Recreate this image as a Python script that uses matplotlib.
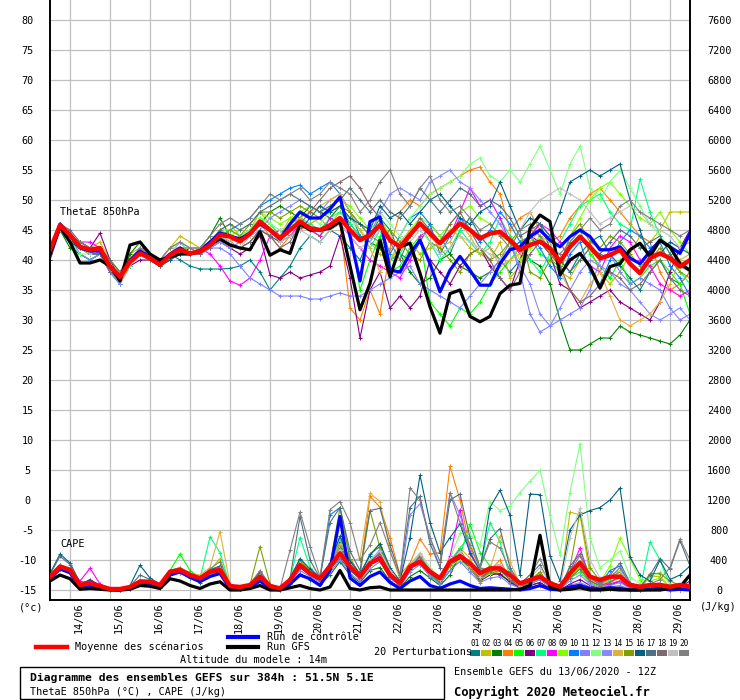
import numpy as np
import matplotlib
matplotlib.use('Agg')
import matplotlib.pyplot as plt
from matplotlib.transforms import ScaledTranslation
from matplotlib.patches import Rectangle

plt.rcParams['font.family'] = ['DejaVu Sans Mono', 'DejaVu Sans']

# forecast hours, every 6h from 13/06 12Z up to 384h
hours = np.arange(0, 385, 6)
day_hours = np.arange(12, 384, 24)
day_labels = ['14/06', '15/06', '16/06', '17/06', '18/06', '19/06', '20/06', '21/06',
              '22/06', '23/06', '24/06', '25/06', '26/06', '27/06', '28/06', '29/06']
theta_ticks = list(range(-15, 81, 5))
cape_ticks = list(range(0, 7601, 400))

pert_colors = ['#008080', '#c0c000', '#008000', '#ff8000', '#00ff00', '#800080', '#00ff80',
               '#ff00ff', '#80ff00', '#0080ff', '#8080ff', '#80ff80', '#8888ff', '#e0b040',
               '#80a000', '#006080', '#507080', '#806870', '#c0c0c0', '#808080']

# ---- ThetaE 850hPa (degC)
theta_mean = [41.7, 45.8, 44.2, 42.2, 41.7, 42.0, 38.9, 37.2, 39.7, 41.1, 40.3, 39.2, 40.8, 41.7, 41.1, 41.4,
              42.5, 44.2, 43.9, 43.1, 44.4, 46.4, 45.0, 43.6, 45.0, 46.4, 45.3, 45.0, 45.8, 47.0, 45.0, 43.3,
              44.2, 45.8, 43.3, 42.2, 44.2, 46.1, 44.4, 42.8, 44.4, 46.1, 45.0, 43.6, 44.4, 44.7, 43.3, 41.7,
              42.5, 43.1, 41.9, 39.7, 42.2, 43.9, 42.2, 40.3, 40.8, 41.7, 39.4, 37.8, 40.3, 41.1, 40.3, 38.9, 40.0]
theta_ctrl = [41, 46, 44, 42, 41.5, 41.5, 39, 37, 40, 41.5, 40.5, 39.5, 41, 42, 41, 41.5,
              43, 44.5, 44, 43.5, 44.5, 46, 45, 43.5, 46, 48, 47, 47, 48.5, 50.5, 44, 36.5,
              46.4, 47.2, 38.3, 38, 41.1, 43.3, 39.4, 34.7, 38.3, 40.6, 38.3, 35.8, 35.8, 39.4, 41.7, 42.2,
              43.9, 45, 43.3, 42.2, 43.9, 45, 43.9, 41.7, 41.7, 42.2, 40.3, 39.4, 41.4, 43.3, 42.2, 41.1, 44.4]
theta_gfs = [41, 45.5, 43, 39.5, 39.5, 40, 39, 36.5, 42.5, 43, 41, 40, 40.5, 41, 41, 41.5,
             42.5, 43.5, 42.5, 42, 41.7, 44.7, 40.8, 41.7, 41.1, 46, 45, 45, 45.3, 46.4, 39, 31.7,
             36.1, 43.3, 37.2, 42.2, 42.8, 37.8, 32.2, 27.8, 34.4, 35, 30.6, 29.7, 30.6, 34.4, 35.8, 36.1,
             45.3, 47.5, 46.4, 37.5, 40, 41.1, 38.9, 35.3, 38.9, 39.4, 41.7, 42.8, 40.6, 43.3, 42.2, 39.4, 38.3]

theta_01 = [42, 45, 43, 41, 40, 41, 38, 37, 40, 41.5, 40, 39, 41, 40, 39, 38.5, 38.5, 38.5, 38.6, 39, 40, 38, 35, 37, 39, 42, 44, 43, 45, 44, 42, 40, 44, 47, 45, 41, 40, 43, 46, 44, 41, 45, 47, 44, 42, 40, 38, 40, 44, 46, 42, 40, 38, 41, 43, 44, 41, 39, 37, 35, 38, 40, 37, 36, 38]
theta_02 = [42, 46, 44, 43, 42, 43, 40, 38, 41, 42, 41, 40, 42, 44, 43, 42, 43, 45, 46, 44, 45, 48, 46, 44, 47, 46, 45, 44, 46, 48, 47, 45, 43, 41, 40, 42, 43, 41, 42, 43, 45, 44, 42, 41, 40, 43, 37, 39, 45, 44, 43, 38, 37, 40, 42, 38, 36, 38, 41, 44, 43, 45, 48, 48, 48]
theta_03 = [41, 45, 42, 41, 40, 41, 38, 36, 41, 43, 40, 39, 40, 42, 41, 42, 44, 47, 44, 43, 44, 46, 48, 49, 48, 47, 49, 48, 47, 49, 46, 44, 43, 42, 40, 41, 38, 36, 37, 40, 41, 39, 38, 37, 38, 40, 42, 43, 40, 39, 36, 30, 25, 25, 26, 27, 27, 29, 28, 27.5, 27, 26.5, 26, 27.5, 30]
theta_04 = [42, 46, 44, 42, 41, 42, 38, 36, 39, 41, 40, 39, 41, 42, 41, 41, 42, 44, 43, 44, 45, 46, 44, 42, 44, 45, 46, 47, 45, 46, 32, 30, 35, 31, 42, 48, 50, 49, 51, 52, 53, 54, 55, 55.5, 53, 51, 45, 47, 48, 45, 43, 44, 47, 49, 51, 52, 50, 48, 46, 44, 43, 38, 35, 36, 38]
theta_05 = [41, 45, 44, 42, 41, 42, 39, 37, 40, 42, 41, 39, 41, 42, 41, 42, 43, 45, 44, 43, 44, 47, 45, 44, 46, 47, 45, 44, 46, 47, 45, 35, 40, 44, 38, 39, 42, 44, 33, 31, 29, 32, 31, 33, 36, 38, 40, 42, 44, 41, 40, 38, 43, 45, 41, 39, 37, 40, 36, 37, 39, 40, 38, 36, 31]
theta_06 = [40, 45, 43, 43, 42, 44.5, 40, 37, 39, 40, 40, 39, 41, 41, 42, 41, 42, 43, 42, 41, 42, 44, 37.5, 37, 38, 37, 37.5, 38, 39, 44, 37, 27, 35, 38, 32, 34, 32, 34, 40, 38, 36, 39, 41, 42, 39, 37, 35, 40, 44, 43, 41, 36, 35, 32, 33, 34, 35, 33, 32, 31, 30, 33, 38, 42, 45]
theta_07 = [42, 45, 43, 41, 40, 41, 38, 36, 40, 42, 41, 40, 42, 43, 41, 41, 43, 45, 45, 44, 45, 47, 46, 44, 45, 47, 46, 45, 47, 48, 46, 44, 42, 45, 40, 41, 44, 46, 43, 40, 42, 45, 43, 41, 43, 47, 44, 42, 40, 38, 41, 43, 46, 49, 50, 51, 48, 46, 45, 53.5, 48, 44, 41, 38, 36]
theta_08 = [42, 46, 44, 43, 43, 42, 39, 37, 40, 42, 41, 40, 41, 42, 41, 42, 41, 39, 36.5, 35.8, 37, 40, 44, 45, 44, 46, 45, 44, 47, 46, 44, 42, 40, 39, 38, 37, 40, 44, 45, 43, 44, 48, 52, 49, 50, 47, 43, 41, 44, 46, 45, 43, 40, 41, 39, 38, 42, 44, 43, 40, 39, 36, 35, 34, 35]
theta_09 = [41, 45, 44, 42, 41, 42, 40, 38, 40, 41, 40, 39, 41, 42, 42, 42, 43, 44, 44, 45, 46, 48, 47, 46, 47, 48, 49, 48, 49, 50, 49, 47, 45, 47, 44, 42, 45, 47, 46, 44, 46, 48, 49, 47, 46, 44, 43, 40, 42, 44, 41, 39, 44, 47, 50, 52, 53, 51, 49, 47, 46, 48, 45, 43, 41]
theta_10 = [41, 46, 44, 42, 41, 41, 38, 37, 39, 41, 40, 39, 41, 42, 41, 41, 42, 44, 45, 46, 47, 49, 50, 51, 52, 52.5, 51, 52, 53, 51, 48, 44, 43, 46, 41, 44, 47, 48, 46, 41, 44, 47, 45, 43, 45, 48, 46, 43, 44, 42, 39, 37, 41, 43, 38, 36, 40, 43, 45, 44, 42, 43, 39, 37, 34]
theta_11 = [42, 45, 44, 41, 40, 41, 38, 36, 40, 41, 40, 39, 40, 41, 41, 41, 42, 42, 41, 39, 37, 36, 35, 34, 34, 34, 33.5, 33.5, 34, 34.5, 34, 34, 35, 36, 37, 38, 39, 36, 35, 34, 33, 32, 34, 36, 38, 40, 43, 38, 31, 28, 29, 30, 31, 32, 35, 40, 41, 38, 36, 37, 36, 35, 32, 30, 31]
theta_12 = [42, 45, 43, 41, 41, 42, 39, 37, 39, 41, 40, 39, 41, 42, 42, 42, 43, 45, 45, 44, 45, 47, 46, 45, 46, 48, 47, 46, 48, 49, 47, 45, 46, 48, 46, 44, 47, 49, 51, 52, 53, 54, 56, 57, 54, 53, 55, 53, 56, 59, 55, 51, 56, 59, 52, 50, 53, 55, 52, 49, 46, 44, 42, 40, 38]
theta_13 = [41, 45, 44, 42, 42, 41, 38, 36, 40, 41, 41, 40, 41, 43, 42, 41, 42, 43, 42, 43, 44, 45, 47, 48, 49, 50, 49, 48, 50, 51, 48, 46, 44, 48, 51, 52, 51, 50, 53, 54, 55, 53, 52, 50, 48, 46, 43, 39, 36, 31, 29, 32, 35, 38, 40, 39, 38, 36, 35, 33, 31, 30, 31, 32, 30]
theta_14 = [41, 46, 44, 42, 41, 42, 39, 37, 40, 42, 41, 40, 42, 42, 41, 42, 43, 45, 44, 43, 44, 46, 45, 44, 46, 47, 48, 49, 50, 51, 48, 45, 42, 38, 40, 43, 45, 46, 44, 42, 43, 46, 44, 41, 42, 39, 40, 41, 43, 45, 43, 38, 35, 33, 36, 38, 34, 30, 29, 30, 31, 33, 36, 40, 41]
theta_15 = [41, 45, 43, 42, 41, 42, 39, 37, 40, 42, 40, 39, 41, 42, 42, 42, 43, 44, 45, 44, 46, 48, 48, 47, 48, 49, 48, 47, 48, 49, 48, 46, 44, 43, 45, 43, 41, 40, 43, 42, 40, 38, 41, 42, 40, 41, 43, 45, 38, 37, 40, 39, 44, 46, 43, 42, 44, 43, 41, 39, 40, 42, 40, 38, 37]
theta_16 = [42, 45, 43, 42, 41, 41, 39, 37, 40, 41, 40, 39, 40, 41, 41, 42, 43, 44, 43, 42, 43, 45, 44, 43, 44, 45, 47, 49, 48, 49, 47, 46, 45, 49, 47, 48, 46, 48, 50, 51, 49, 47, 46, 48, 49, 53, 49, 45, 47, 46, 44, 48, 53, 54, 55, 54, 55, 56, 50, 45, 40, 41, 43, 42, 41]
theta_17 = [42, 46, 45, 43, 42, 42, 40, 38, 40, 41, 40, 39, 41, 42, 41, 42, 43, 45, 46, 45, 46, 48, 49, 50, 51, 50, 49, 48, 49, 50, 52, 50, 48, 50, 48, 47, 49, 52, 50, 48, 50, 52, 51, 49, 50, 49, 47, 44, 45, 46, 44, 40, 38, 40, 42, 41, 43, 45, 44, 42, 43, 44, 41, 39, 38]
theta_18 = [41, 45, 44, 42, 41, 41, 38, 37, 40, 41, 40, 39, 41, 42, 41, 41, 42, 44, 43, 42, 43, 45, 44, 42, 43, 46, 48, 50, 52, 53, 54, 52, 49, 47, 43, 40, 44, 47, 45, 43, 46, 48, 45, 42, 40, 37, 35, 38, 41, 43, 41, 39, 35, 33, 34, 36, 38, 37, 35, 36, 38, 40, 37, 35, 34]
theta_19 = [42, 45, 44, 42, 41, 42, 39, 37, 40, 42, 41, 40, 41, 43, 42, 42, 43, 44, 43, 42, 44, 46, 45, 43, 44, 45, 44, 43, 45, 46, 44, 42, 43, 45, 44, 42, 43, 45, 43, 41, 42, 44, 43, 42, 41, 40, 42, 45, 48, 50, 51, 52, 51, 50, 48, 46, 47, 48, 49, 48, 46, 45, 44, 42, 43]
theta_20 = [42, 46, 44, 43, 42, 42, 39, 38, 40, 42, 41, 40, 42, 43, 42, 42, 44, 46, 47, 46, 47, 49, 51, 50, 51, 52, 50, 51, 53, 52, 51, 48, 50, 53, 55, 51, 49, 52, 54, 50, 48, 49, 47, 45, 46, 44, 42, 45, 46, 44, 42, 41, 43, 45, 47, 45, 46, 49, 50, 48, 47, 46, 45, 44, 45]

# ---- CAPE (J/kg)
cape_mean = [178, 311, 267, 67, 89, 53, 13, 13, 40, 111, 111, 67, 244, 267, 200, 156, 244, 267, 53, 40, 67, 178,
             53, 22, 133, 333, 222, 156, 311, 489, 311, 178, 356, 422, 200, 89, 311, 378, 244, 156, 378, 453,
             356, 222, 289, 289, 200, 89, 133, 178, 89, 44, 222, 364, 178, 133, 178, 178, 67, 44, 67, 67, 44, 67, 44]
cape_ctrl = [150, 280, 230, 40, 60, 30, 5, 0, 20, 90, 80, 40, 200, 240, 170, 110, 180, 220, 20, 10, 30, 120,
             20, 0, 80, 200, 150, 60, 260, 980, 160, 60, 180, 240, 100, 20, 120, 180, 60, 20, 80, 120,
             60, 20, 30, 20, 10, 0, 20, 60, 10, 0, 40, 60, 20, 10, 30, 20, 0, 0, 10, 20, 0, 10, 0]
cape_gfs = [120, 200, 150, 10, 20, 10, 0, 0, 10, 60, 50, 20, 150, 120, 60, 20, 80, 110, 0, 0, 20, 60,
            0, 0, 30, 60, 20, 0, 40, 260, 20, 0, 30, 40, 0, 0, 0, 0, 0, 0, 0, 0,
            0, 0, 0, 0, 0, 10, 60, 730, 40, 0, 10, 30, 0, 0, 10, 0, 0, 0, 0, 0, 20, 40, 200]

cape_01 = [160, 300, 260, 60, 90, 40, 10, 0, 30, 100, 90, 60, 230, 250, 180, 140, 220, 300, 40, 20, 60, 180, 40, 10, 120, 300, 200, 120, 280, 420, 260, 150, 330, 460, 180, 60, 280, 380, 200, 90, 260, 420, 300, 140, 230, 260, 140, 40, 80, 140, 40, 10, 160, 300, 120, 60, 100, 180, 40, 10, 30, 40, 10, 20, 20]
cape_02 = [180, 330, 280, 70, 100, 50, 10, 0, 40, 120, 110, 60, 250, 300, 210, 150, 260, 420, 60, 30, 80, 250, 60, 20, 140, 380, 240, 150, 320, 560, 280, 180, 480, 620, 260, 80, 300, 420, 260, 120, 380, 560, 420, 180, 260, 220, 120, 40, 100, 180, 40, 20, 1040, 1000, 200, 100, 140, 200, 60, 20, 180, 180, 40, 60, 80]
cape_03 = [170, 280, 240, 40, 70, 30, 0, 0, 20, 80, 70, 30, 200, 230, 160, 100, 200, 250, 30, 10, 40, 150, 30, 0, 80, 220, 140, 80, 200, 380, 200, 100, 260, 300, 120, 30, 180, 260, 160, 60, 200, 480, 300, 160, 240, 200, 120, 30, 60, 100, 20, 0, 40, 80, 20, 0, 20, 40, 0, 0, 10, 10, 0, 0, 0]
cape_04 = [160, 280, 250, 60, 80, 50, 10, 0, 30, 100, 90, 50, 220, 240, 180, 130, 230, 260, 40, 20, 60, 200, 50, 10, 120, 320, 220, 140, 300, 700, 420, 200, 1250, 1100, 700, 200, 360, 680, 480, 500, 1650, 1200, 560, 300, 260, 400, 140, 60, 100, 180, 60, 20, 180, 280, 120, 60, 120, 160, 40, 10, 40, 40, 10, 20, 20]
cape_05 = [190, 320, 270, 60, 80, 40, 10, 0, 40, 110, 100, 60, 260, 480, 260, 160, 240, 320, 50, 20, 60, 220, 50, 10, 140, 400, 260, 140, 320, 600, 340, 180, 380, 480, 220, 80, 300, 340, 200, 90, 320, 460, 880, 500, 320, 280, 160, 40, 100, 160, 40, 10, 160, 240, 100, 40, 80, 120, 30, 0, 20, 30, 0, 10, 10]
cape_06 = [170, 290, 260, 70, 140, 60, 10, 0, 30, 100, 100, 60, 230, 250, 190, 140, 230, 260, 50, 20, 60, 180, 50, 10, 120, 300, 200, 120, 280, 640, 300, 160, 360, 420, 180, 60, 280, 380, 220, 100, 320, 420, 280, 120, 200, 220, 100, 30, 60, 100, 20, 0, 80, 140, 60, 20, 60, 120, 20, 0, 10, 40, 0, 40, 120]
cape_07 = [180, 300, 270, 60, 90, 50, 10, 0, 40, 110, 100, 60, 240, 260, 200, 150, 710, 500, 60, 30, 70, 200, 50, 10, 140, 700, 300, 160, 350, 680, 300, 180, 400, 520, 220, 80, 300, 420, 220, 100, 380, 560, 720, 300, 900, 640, 180, 60, 100, 200, 60, 20, 200, 340, 140, 80, 140, 260, 60, 20, 640, 400, 60, 40, 60]
cape_08 = [200, 330, 290, 120, 290, 80, 20, 0, 40, 110, 110, 70, 250, 270, 210, 160, 260, 300, 60, 30, 70, 200, 60, 20, 140, 360, 240, 150, 320, 520, 280, 160, 380, 480, 200, 70, 320, 440, 260, 120, 450, 1070, 480, 260, 300, 340, 160, 50, 100, 220, 60, 10, 240, 560, 160, 60, 80, 120, 40, 10, 30, 60, 10, 30, 60]
cape_09 = [160, 290, 250, 60, 80, 40, 10, 0, 30, 100, 100, 60, 240, 280, 200, 150, 250, 300, 60, 30, 60, 190, 50, 10, 140, 380, 240, 140, 300, 540, 300, 180, 400, 520, 240, 100, 320, 460, 260, 120, 320, 400, 280, 140, 220, 300, 160, 40, 120, 220, 60, 20, 180, 300, 140, 100, 320, 690, 420, 140, 120, 160, 40, 60, 80]
cape_10 = [170, 310, 260, 70, 90, 50, 10, 0, 30, 100, 100, 60, 230, 250, 190, 140, 230, 260, 50, 20, 60, 190, 50, 10, 130, 360, 260, 160, 1000, 1100, 420, 200, 480, 580, 260, 80, 300, 460, 240, 100, 340, 460, 300, 160, 260, 300, 140, 40, 120, 200, 60, 20, 200, 360, 140, 80, 260, 320, 60, 20, 40, 80, 20, 40, 40]
cape_11 = [150, 280, 240, 60, 80, 40, 10, 0, 30, 90, 80, 40, 210, 230, 170, 120, 200, 240, 40, 10, 50, 160, 40, 0, 100, 260, 180, 100, 240, 400, 220, 120, 280, 380, 160, 50, 240, 340, 180, 80, 260, 380, 240, 100, 160, 180, 80, 20, 40, 60, 10, 0, 60, 100, 40, 10, 40, 60, 10, 0, 10, 20, 0, 0, 10]
cape_12 = [180, 310, 270, 70, 90, 50, 10, 0, 40, 110, 100, 60, 240, 270, 200, 150, 240, 290, 60, 30, 60, 200, 60, 20, 140, 360, 240, 160, 340, 560, 320, 180, 400, 500, 260, 100, 340, 500, 300, 160, 420, 760, 740, 600, 1180, 1060, 1120, 1300, 1450, 1600, 1000, 470, 1300, 1950, 700, 300, 400, 520, 180, 80, 160, 240, 80, 60, 80]
cape_13 = [170, 300, 260, 60, 80, 40, 10, 0, 30, 100, 90, 50, 220, 240, 180, 130, 220, 260, 50, 20, 60, 180, 50, 10, 120, 320, 220, 130, 300, 520, 300, 160, 380, 540, 260, 100, 1000, 1150, 700, 300, 1300, 1000, 520, 240, 280, 300, 140, 40, 80, 140, 40, 10, 120, 200, 80, 30, 60, 100, 20, 0, 10, 30, 0, 10, 20]
cape_14 = [170, 300, 260, 70, 90, 50, 10, 0, 40, 110, 100, 60, 240, 280, 220, 200, 300, 780, 80, 30, 70, 210, 60, 20, 140, 380, 260, 160, 340, 620, 380, 420, 1290, 1180, 520, 140, 340, 480, 260, 120, 380, 500, 320, 160, 280, 720, 380, 80, 140, 240, 60, 20, 200, 380, 140, 60, 100, 160, 40, 10, 20, 60, 10, 20, 40]
cape_15 = [160, 290, 250, 60, 80, 40, 10, 0, 30, 100, 90, 50, 230, 260, 190, 140, 240, 280, 50, 20, 70, 580, 80, 20, 140, 380, 260, 160, 340, 1100, 420, 200, 1060, 560, 260, 90, 320, 460, 260, 120, 340, 460, 300, 140, 240, 300, 140, 40, 120, 240, 60, 20, 300, 1040, 300, 120, 160, 240, 60, 20, 220, 220, 120, 60, 80]
cape_16 = [220, 480, 360, 100, 120, 70, 20, 0, 60, 330, 160, 80, 260, 280, 220, 170, 270, 320, 70, 30, 80, 240, 70, 20, 160, 420, 280, 170, 360, 720, 380, 220, 460, 620, 300, 120, 700, 1530, 900, 500, 700, 880, 500, 260, 1100, 1330, 1000, 200, 1280, 1270, 460, 120, 800, 1000, 1060, 1100, 1200, 1360, 440, 200, 120, 400, 140, 200, 320]
cape_17 = [210, 450, 340, 90, 110, 60, 20, 0, 50, 200, 140, 70, 250, 270, 210, 160, 260, 310, 60, 30, 80, 230, 60, 20, 150, 980, 400, 160, 900, 1100, 520, 260, 1060, 1090, 600, 200, 1100, 1250, 620, 300, 1200, 1280, 700, 300, 680, 820, 300, 80, 200, 340, 80, 20, 320, 480, 200, 100, 200, 360, 100, 40, 200, 420, 280, 660, 320]
cape_18 = [180, 310, 270, 70, 90, 50, 10, 0, 40, 110, 100, 60, 240, 260, 200, 150, 240, 290, 50, 20, 60, 190, 50, 10, 130, 340, 220, 140, 300, 560, 300, 160, 380, 500, 240, 90, 320, 460, 260, 120, 360, 540, 320, 160, 260, 300, 140, 40, 100, 180, 40, 10, 160, 280, 120, 60, 100, 180, 40, 10, 30, 60, 10, 30, 40]
cape_19 = [170, 300, 260, 70, 90, 50, 10, 0, 40, 110, 100, 60, 240, 260, 200, 150, 240, 290, 60, 30, 70, 200, 60, 20, 140, 360, 240, 160, 320, 540, 300, 180, 400, 520, 260, 100, 320, 480, 280, 140, 360, 520, 320, 180, 300, 340, 180, 60, 160, 300, 100, 40, 700, 1090, 400, 160, 200, 260, 80, 30, 60, 100, 30, 40, 60]
cape_20 = [190, 340, 290, 80, 100, 60, 10, 0, 50, 140, 120, 70, 260, 300, 230, 170, 280, 380, 70, 30, 80, 260, 70, 20, 530, 1040, 580, 180, 1070, 1180, 900, 400, 600, 900, 520, 180, 1360, 1200, 700, 380, 1290, 900, 600, 300, 640, 560, 260, 80, 200, 420, 120, 40, 240, 460, 180, 80, 160, 300, 80, 30, 80, 140, 300, 680, 400]

theta_perts = [theta_01, theta_02, theta_03, theta_04, theta_05, theta_06, theta_07, theta_08, theta_09, theta_10,
               theta_11, theta_12, theta_13, theta_14, theta_15, theta_16, theta_17, theta_18, theta_19, theta_20]
cape_perts = [cape_01, cape_02, cape_03, cape_04, cape_05, cape_06, cape_07, cape_08, cape_09, cape_10,
              cape_11, cape_12, cape_13, cape_14, cape_15, cape_16, cape_17, cape_18, cape_19, cape_20]

W, H = 740, 700
fig = plt.figure(figsize=(W / 100, H / 100), dpi=100)
ax = fig.add_axes([50 / W, 100 / H, 640 / W, 600 / H])
ax2 = ax.twinx()

ylo, yhi = -15 - 10 / 6, 80 + 20 / 6
ax.set_xlim(0, 384)
ax.set_ylim(ylo, yhi)
ax2.set_ylim((ylo + 15) * 80, (yhi + 15) * 80)

# grid
for v in theta_ticks:
    ax.axhline(v, color='#c0c0c0', lw=0.9, zorder=0)
for h in day_hours:
    ax.axvline(h, color='#c0c0c0', lw=0.9, zorder=0)

fs = 7.3
mk = dict(marker='+', markersize=3, markeredgewidth=0.7)

for vals, col in zip(theta_perts, pert_colors):
    ax.plot(hours[:len(vals)], vals, color=col, lw=0.8, **mk, zorder=2)
ax.plot(hours[:len(theta_ctrl)], theta_ctrl, color='#0000ff', lw=2.3, zorder=3)
ax.plot(hours[:len(theta_gfs)], theta_gfs, color='#000000', lw=2.3, zorder=3)
ax.plot(hours[:len(theta_mean)], theta_mean, color='#ff0000', lw=3.2, zorder=4)

for vals, col in zip(cape_perts, pert_colors):
    ax2.plot(hours[:len(vals)], vals, color=col, lw=0.8, **mk, zorder=2)
ax2.plot(hours[:len(cape_ctrl)], cape_ctrl, color='#0000ff', lw=2.3, zorder=3)
ax2.plot(hours[:len(cape_gfs)], cape_gfs, color='#000000', lw=2.3, zorder=3)
ax2.plot(hours[:len(cape_mean)], cape_mean, color='#ff0000', lw=3.2, zorder=4)

# axes frame
for a in (ax, ax2):
    a.spines['top'].set_visible(False)
    for s in ('left', 'right', 'bottom'):
        a.spines[s].set_color('black')
        a.spines[s].set_linewidth(1.2)

ax.set_yticks(theta_ticks)
ax.set_yticklabels([str(v) for v in theta_ticks])
ax.tick_params(axis='y', length=0, pad=16, labelsize=fs)
for lbl in ax.get_yticklabels():
    lbl.set_horizontalalignment('center')

ax2.set_yticks(cape_ticks)
ax2.set_yticklabels([str(v) for v in cape_ticks])
ax2.tick_params(axis='y', length=0, pad=21, labelsize=fs)
for lbl in ax2.get_yticklabels():
    lbl.set_horizontalalignment('center')

ax.set_xticks(day_hours)
ax.set_xticklabels(day_labels, rotation=90, va='top', ha='center')
ax.tick_params(axis='x', length=0, pad=1.5, labelsize=fs)
shift = ScaledTranslation(0.085, 0, fig.dpi_scale_trans)
for lbl in ax.get_xticklabels():
    lbl.set_transform(lbl.get_transform() + shift)


def px(x, y):
    return x / W, 1 - y / H


ax.text(10 / 640, 1 - 212 / 600, 'ThetaE 850hPa', transform=ax.transAxes, fontsize=fs, va='center')
ax.text(10 / 640, 1 - 544 / 600, 'CAPE', transform=ax.transAxes, fontsize=fs, va='center')

fig.text(*px(31, 607), '(°c)', fontsize=fs, ha='center', va='center')
fig.text(*px(700, 607), '(J/kg)', fontsize=fs, ha='left', va='center')

# legend
fig.add_artist(plt.Line2D([36 / W, 67 / W], [1 - 647 / H] * 2, color='#ff0000', lw=3.2))
fig.text(*px(75, 647), 'Moyenne des scénarios', fontsize=fs, va='center')
fig.add_artist(plt.Line2D([228 / W, 258 / W], [1 - 637 / H] * 2, color='#0000ff', lw=3.0))
fig.text(*px(267, 637), 'Run de contrôle', fontsize=fs, va='center')
fig.add_artist(plt.Line2D([228 / W, 258 / W], [1 - 647 / H] * 2, color='#000000', lw=3.0))
fig.text(*px(267, 647), 'Run GFS', fontsize=fs, va='center')
fig.text(*px(254, 660), 'Altitude du modele : 14m', fontsize=fs, ha='center', va='center')
fig.text(*px(374, 652), '20 Perturbations', fontsize=fs, va='center')
for k, col in enumerate(pert_colors):
    x0 = 470 + 11 * k
    fig.add_artist(Rectangle((x0 / W, 1 - 656 / H), 10 / W, 6 / H, transform=fig.transFigure,
                             facecolor=col, edgecolor='none'))
    fig.text(*px(x0 + 5, 643), f'{k + 1:02d}', fontsize=5.6, ha='center', va='center')

fig.add_artist(Rectangle((20 / W, 1 - 699 / H), 424 / W, 32 / H, transform=fig.transFigure,
                         facecolor='white', edgecolor='black', lw=1.0))
fig.text(*px(30, 678), 'Diagramme des ensembles GEFS sur 384h : 51.5N 5.1E', fontsize=8.2,
         fontweight='bold', va='center')
fig.text(*px(30, 692), 'ThetaE 850hPa (°C) , CAPE (J/kg)', fontsize=fs, va='center')
fig.text(*px(454, 672), 'Ensemble GEFS du 13/06/2020 - 12Z', fontsize=fs, va='center')
fig.text(*px(454, 692), 'Copyright 2020 Meteociel.fr', fontsize=8.7, fontweight='bold', va='center')

fig.savefig('out.png', dpi=100, facecolor='white')
